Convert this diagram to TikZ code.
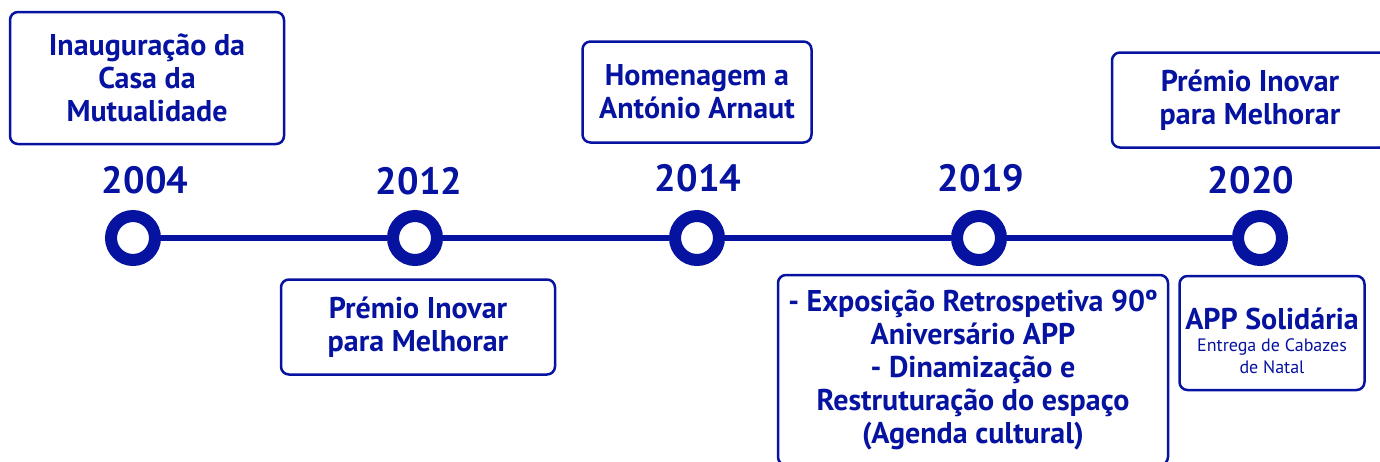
\documentclass[tikz,border=0pt]{standalone}
\usepackage{fontspec}
\setmainfont{PT Sans}
\definecolor{appblue}{RGB}{6,18,160}

\begin{document}
\begin{tikzpicture}[x=1pt,y=-1pt,
  every node/.style={text=appblue},
  evento/.style={draw=appblue,line width=2.5pt,rounded corners=8pt,align=center,inner sep=0pt,
    font=\bfseries\fontsize{30}{33}\selectfont},
  ano/.style={font=\bfseries\fontsize{38}{40}\selectfont},
  marco/.style={circle,draw=appblue,fill=white,line width=12pt,minimum size=44pt,inner sep=0pt}]
\useasboundingbox (0,0) rectangle (1380,461);
% marcos da linha
\node[marco] (m2004) at (133,238) {};
\node[marco] (m2012) at (415,238) {};
\node[marco] (m2014) at (697,238) {};
\node[marco] (m2019) at (979,238) {};
\node[marco] (m2020) at (1260,238) {};
\draw[appblue,line width=6pt] (m2004) -- (m2012) -- (m2014) -- (m2019) -- (m2020);
% anos
\node[ano] (a2004) at (145,180) {2004};
\node[ano] (a2012) at (419,181) {2012};
\node[ano] (a2014) at (698,178) {2014};
\node[ano] (a2019) at (981,178) {2019};
\node[ano] (a2020) at (1251,180) {2020};
% eventos
\node[evento,minimum width=274pt,minimum height=132pt] (e2004) at (147,78) {Inauguração da\\Casa da\\Mutualidade};
\node[evento,minimum width=274pt,minimum height=95pt] (e2012) at (418,327) {Prémio Inovar\\para Melhorar};
\node[evento,minimum width=229pt,minimum height=101pt] (e2014) at (697,92) {Homenagem a\\António Arnaut};
\node[evento,minimum width=390pt,minimum height=190pt] (e2019) at (973,370)
  {- Exposição Retrospetiva 90º\\Aniversário APP\\- Dinamização e\\Restruturação do espaço\\(Agenda cultural)};
\node[evento,minimum width=276pt,minimum height=95pt] (e2020a) at (1250,100) {Prémio Inovar\\para Melhorar};
\node[evento,minimum width=185pt,minimum height=114pt,font=\bfseries\fontsize{30}{22}\selectfont] (e2020b) at (1272,333)
  {\rule{0pt}{37pt}APP Solidária\\{\mdseries\fontsize{18}{22}\selectfont Entrega de Cabazes}\\{\mdseries\fontsize{18}{22}\selectfont de Natal}};
\end{tikzpicture}
\end{document}
